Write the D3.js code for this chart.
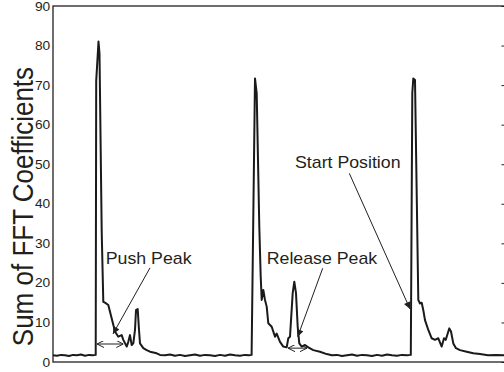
<!DOCTYPE html>
<meta charset="utf-8">
<script src="https://cdn.jsdelivr.net/npm/d3@7"></script>
<style>
    body { margin: 0; background: #fff; }
    text { font-family: "Liberation Sans", Arial, sans-serif; fill: #231f20; }
    .line { fill: none; stroke: #1a1a1a; stroke-width: 2; stroke-linejoin: round; }
    .frame { fill: none; stroke: #231f20; stroke-width: 1.3; }
    .ann { stroke: #231f20; stroke-width: 1; fill: none; }
</style>
<body>
<div id="chart"></div>
<script>

    // sample index (time) and summed FFT coefficient value
    var t = [0, 4, 8, 12, 16, 20, 24, 28, 32, 36, 40, 42.7,
        43.2, 45.5, 46.5, 48.7, 50.3, 52, 55.3, 62, 65.3, 68.7, 70.3, 73.7, 75.3, 77, 78.7, 80.3,
        82, 83, 84.7, 86, 87, 90.3, 93.7, 97, 103.7, 107,
        112, 117, 122, 127, 132, 137, 142, 147, 152, 157, 162, 167, 172, 177, 182, 187, 192, 196, 198.6,
        202, 203.7, 206.3, 207.7, 208.7, 210.3, 212, 213.7, 215.3, 218.7, 222, 223.7, 227, 230.3,
        233.7, 235.3, 237, 239.7, 241.3, 243, 244.7, 246.3, 248.7, 252, 255.3, 260.3, 267, 273.7,
        279, 284, 289, 294, 299, 304, 309, 314, 319, 324, 329, 334, 339, 344, 349, 354, 357.8,
        359.3, 360.3, 362, 365.3, 367, 368.7, 370.3, 372, 375.3, 378.7, 382, 385.3, 388.7,
        391, 392.7, 394.7, 396.3, 398, 400.3, 403, 407, 413.7, 420.3, 427, 435, 443, 452]
    var sumFFT = [1.7, 1.6, 1.8, 1.7, 1.5, 1.8, 1.7, 1.9, 1.6, 1.8, 1.7, 1.8,
        71, 81, 78, 33, 15.2, 15, 14.4, 7.7, 6.4, 6.8, 5.6, 3.9, 5.1, 6.8, 4.3, 4.7,
        8.1, 13.1, 13.4, 8.1, 4.7, 3.5, 3.0, 2.6, 2.2, 1.8,
        1.7, 1.9, 1.6, 1.8, 1.5, 1.7, 1.9, 1.6, 1.8, 1.7, 1.5, 1.8, 1.6, 1.9, 1.7, 1.6, 1.8, 1.7, 1.8,
        71.7, 67.9, 34.2, 21.6, 15.7, 18.2, 15.7, 14, 9.8, 8.9, 6.4, 7.2, 5.1, 3.9,
        3.7, 6.0, 6.4, 17.4, 20.3, 17.4, 8.9, 4.7, 3.9, 4.3, 3.7, 3.0, 2.6, 2.0,
        1.7, 1.8, 1.5, 1.7, 1.9, 1.6, 1.8, 1.7, 1.5, 1.8, 1.6, 1.9, 1.7, 1.6, 1.8, 1.7, 1.8,
        68, 71.7, 71.3, 15.7, 14.8, 15.0, 13.1, 10.6, 8.1, 6.0, 5.6, 6.0, 3.9,
        6.0, 5.6, 7.2, 8.5, 7.7, 4.7, 3.5, 3.0, 2.6, 2.2, 2.0, 1.7, 1.8, 1.7]

    var yTicks = [0, 10, 20, 30, 40, 50, 60, 70, 80, 90]

    // annotation arrows: from (text end) to tip, in data units
    var arrowLabels = ["Push Peak", "Release Peak", "Start Position"]
    var labelAt = [[52.7, 24.7], [213.7, 24.8], [242, 49]]
    var arrowFrom = [[97, 23.8], [269.7, 23.7], [296.3, 47.7]]
    var arrowTip = [[60, 7.1], [244.7, 6.4], [357, 13.4]]
    // double-headed width arrows
    var spanFrom = [[44, 4.55], [235, 3.5]]
    var spanTo = [[70.3, 4.55], [254, 3.5]]

    var W = 504, H = 372
    var x_scale = d3.scaleLinear().domain([0, 453]).range([53, 506])
    var y_scale = d3.scaleLinear().domain([0, 90]).range([362, 6])

    var svg = d3.select("#chart").append("svg").attr("width", W).attr("height", H)

    var defs = svg.append("defs")
    defs.append("marker").attr("id", "solid").attr("viewBox", "0 0 10 10").attr("refX", 10).attr("refY", 5)
        .attr("markerWidth", 9).attr("markerHeight", 7).attr("markerUnits", "userSpaceOnUse").attr("orient", "auto")
        .append("path").attr("d", "M0,0L10,5L0,10Z").style("fill", "#231f20")
    defs.append("marker").attr("id", "open").attr("viewBox", "0 0 10 10").attr("refX", 10).attr("refY", 5)
        .attr("markerWidth", 7).attr("markerHeight", 7).attr("markerUnits", "userSpaceOnUse").attr("orient", "auto-start-reverse")
        .append("path").attr("d", "M0,0L10,5L0,10").style("fill", "none").style("stroke", "#231f20").style("stroke-width", 1.4)

    // left axis: labels only
    var y_axis = d3.axisLeft(y_scale).tickValues(yTicks).tickSize(0).tickPadding(2.5)
    var gy = svg.append("g").attr("transform", "translate(53,0)").call(y_axis)
    gy.select(".domain").remove()
    gy.selectAll("text").style("font-size", "12.5px").style("font-family", "Liberation Sans, Arial, sans-serif")
        .style("fill", "#231f20").attr("transform", "scale(1.1,1)")

    // right axis, ticks only, pointing inward
    var y_axis_r = d3.axisRight(y_scale).tickValues(yTicks).tickSizeInner(-4).tickSizeOuter(0).tickFormat("")
    var gr = svg.append("g").attr("transform", "translate(505.5,0)").call(y_axis_r)
    gr.select(".domain").remove()
    gr.selectAll("line").style("stroke", "#231f20")

    svg.append("rect").attr("class", "frame")
        .attr("x", x_scale(0)).attr("y", y_scale(90))
        .attr("width", x_scale(453) - x_scale(0)).attr("height", y_scale(0) - y_scale(90))

    var line = d3.line().x((d, i) => x_scale(t[i])).y((d) => y_scale(d))
    svg.append("path").datum(sumFFT).attr("class", "line").attr("d", line)

    // arrows
    arrowLabels.forEach((lab, i) => {
        svg.append("line").attr("class", "ann")
            .attr("x1", x_scale(arrowFrom[i][0])).attr("y1", y_scale(arrowFrom[i][1]))
            .attr("x2", x_scale(arrowTip[i][0])).attr("y2", y_scale(arrowTip[i][1]))
            .attr("marker-end", "url(#solid)")
        svg.append("text")
            .attr("transform", "translate(" + x_scale(labelAt[i][0]) + "," + y_scale(labelAt[i][1]) + ") scale(1.11,1)")
            .text(lab).style("font-size", "16px")
    })
    spanFrom.forEach((s, i) => {
        svg.append("line").attr("class", "ann")
            .attr("x1", x_scale(s[0])).attr("y1", y_scale(s[1]))
            .attr("x2", x_scale(spanTo[i][0])).attr("y2", y_scale(spanTo[i][1]))
            .attr("marker-start", "url(#open)").attr("marker-end", "url(#open)")
    })

    svg.append("text")
        .attr("transform", "translate(33," + y_scale(39.3) + ") scale(1.12,1) rotate(-90)")
        .attr("text-anchor", "middle").style("font-size", "26px")
        .text("Sum of FFT Coefficients")

</script>
</body>
</html>
